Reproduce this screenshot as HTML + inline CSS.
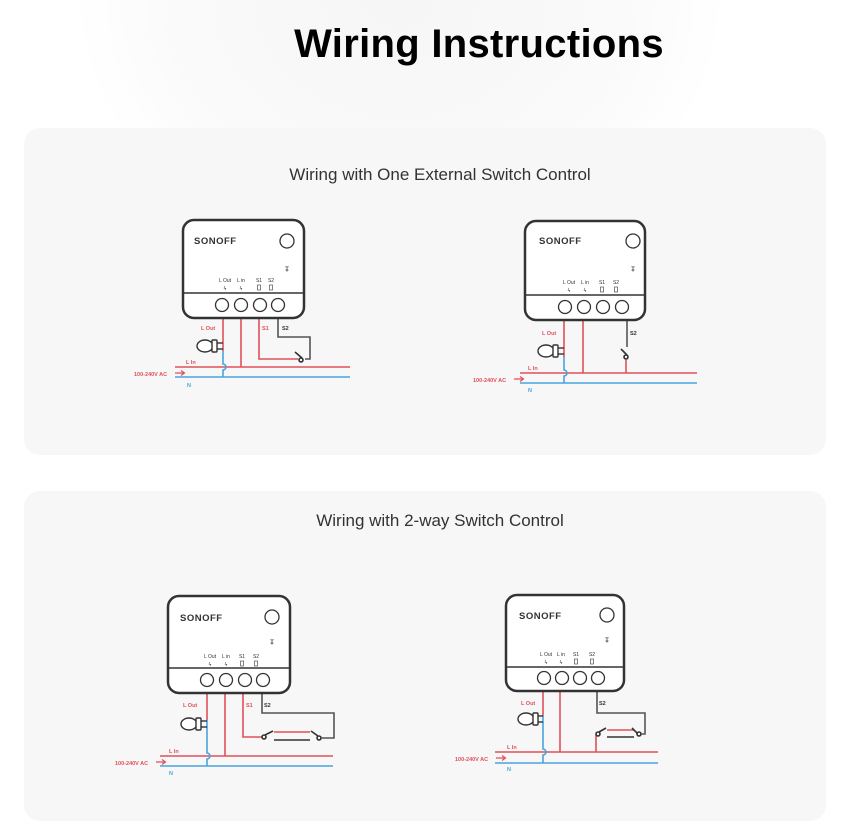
<!DOCTYPE html>
<html><head><meta charset="utf-8"><style>
html,body{margin:0;padding:0;background:#fff;}
body{width:841px;height:802px;overflow:hidden;position:relative;font-family:"Liberation Sans",sans-serif;}
.bg{position:absolute;left:80px;top:-260px;width:640px;height:520px;border-radius:50%;background:radial-gradient(ellipse at center,#f6f6f6 0%,#fafafa 50%,#fff 72%);}
h1{position:absolute;left:0;width:958px;top:22px;margin:0;text-align:center;font-size:40px;font-weight:bold;color:#000;letter-spacing:0.3px;}
.card{position:absolute;left:24px;width:802px;background:#f7f7f7;border-radius:16px;}
.ct{position:absolute;left:0;width:832px;text-align:center;font-size:17px;color:#333;}
svg{position:absolute;left:0;top:0;}
</style></head><body>
<div class="bg"></div>
<h1>Wiring Instructions</h1>
<div class="card" style="top:128px;height:327px;"><div class="ct" style="top:37px;">Wiring with One External Switch Control</div></div>
<div class="card" style="top:491px;height:330px;"><div class="ct" style="top:20px;">Wiring with 2-way Switch Control</div></div>
<svg width="841" height="802" viewBox="0 0 841 802" font-family="Liberation Sans, sans-serif">

<!-- ============ Diagram 1 ============ -->
<g fill="none" stroke-width="1.6">
<line x1="175" y1="367" x2="350" y2="367" stroke="#e0505a"/>
<line x1="175" y1="377" x2="350" y2="377" stroke="#4aa3df"/>
<polyline points="223,318 223,351" stroke="#e0505a"/>
<path d="M223 351 V364 a3 3 0 0 1 0 6 V377" stroke="#4aa3df"/>
<line x1="241" y1="318" x2="241" y2="367" stroke="#e0505a"/>
<polyline points="259,318 259,359 298,359" stroke="#e0505a"/>
<polyline points="278,318 278,337 310,337 310,359 305,359" stroke="#555"/>
<circle cx="301" cy="360" r="2" stroke="#333"/>
<line x1="302" y1="358" x2="295" y2="352" stroke="#333"/>
</g>
<g stroke="#333" stroke-width="1.4" fill="#fff">
<ellipse cx="205" cy="346" rx="8" ry="6"/>
<rect x="212" y="340" width="5" height="12" rx="1"/>
<line x1="217" y1="343" x2="223" y2="343"/><line x1="217" y1="349" x2="223" y2="349"/>
</g>
<g font-size="5.5" font-weight="bold">
<text x="186" y="364" fill="#e0505a">L In</text>
<text x="134" y="376" fill="#e0505a">100-240V AC</text>
<text x="187" y="387" fill="#4aa3df">N</text>
<text x="201" y="330" fill="#e0505a">L Out</text>
<text x="262" y="330" fill="#e0505a">S1</text>
<text x="282" y="330" fill="#333">S2</text>
</g>
<path d="M175 373 h9 M181 370.5 l3.5 2.5 -3.5 2.5" stroke="#e0505a" stroke-width="1.2" fill="none"/>

<g transform="translate(183,220)">
<rect x="0" y="0" width="121" height="98" rx="11" fill="#fff" stroke="#333" stroke-width="2.5"/>
<line x1="1" y1="73" x2="120" y2="73" stroke="#333" stroke-width="1.6"/>
<g fill="#fff" stroke="#333" stroke-width="1.3"><circle cx="39" cy="85" r="6.5"/><circle cx="58" cy="85" r="6.5"/><circle cx="77" cy="85" r="6.5"/><circle cx="95" cy="85" r="6.5"/><circle cx="104" cy="21" r="7"/></g>
<text x="11" y="24" font-size="9.5" font-weight="bold" fill="#333" letter-spacing="0.5">SONOFF</text>
<text x="104" y="49" font-size="5" fill="#333" text-anchor="middle">ᯤ</text><circle cx="104" cy="50" r="1" fill="none" stroke="#333" stroke-width="0.6"/>
<g font-size="5" fill="#333" text-anchor="middle"><text x="42" y="62">L Out</text><text x="58" y="62">L in</text><text x="76" y="62">S1</text><text x="88" y="62">S2</text>
<text x="42" y="70">ϟ</text><text x="58" y="70">ϟ</text></g>
<rect x="74.5" y="65" width="3" height="5" fill="none" stroke="#333" stroke-width="0.6"/><rect x="86.5" y="65" width="3" height="5" fill="none" stroke="#333" stroke-width="0.6"/>
</g>

<!-- ============ Diagram 2 ============ -->
<g fill="none" stroke-width="1.6">
<line x1="520" y1="373" x2="697" y2="373" stroke="#e0505a"/>
<line x1="520" y1="383" x2="697" y2="383" stroke="#4aa3df"/>
<polyline points="564,320 564,357" stroke="#e0505a"/>
<path d="M564 357 V370 a3 3 0 0 1 0 6 V383" stroke="#4aa3df"/>
<line x1="583" y1="320" x2="583" y2="373" stroke="#e0505a"/>
<polyline points="627,320 627,347" stroke="#555"/>
<polyline points="626,373 626,360" stroke="#e0505a"/>
<circle cx="626" cy="357" r="2" stroke="#333"/>
<line x1="627" y1="355" x2="621" y2="349" stroke="#333"/>
</g>
<g stroke="#333" stroke-width="1.4" fill="#fff">
<ellipse cx="546" cy="351" rx="8" ry="6"/>
<rect x="553" y="345" width="5" height="12" rx="1"/>
<line x1="558" y1="348" x2="564" y2="348"/><line x1="558" y1="354" x2="564" y2="354"/>
</g>
<g font-size="5.5" font-weight="bold">
<text x="528" y="370" fill="#e0505a">L In</text>
<text x="473" y="382" fill="#e0505a">100-240V AC</text>
<text x="528" y="392" fill="#4aa3df">N</text>
<text x="542" y="335" fill="#e0505a">L Out</text>
<text x="630" y="335" fill="#333">S2</text>
</g>
<path d="M514 379 h9 M520 376.5 l3.5 2.5 -3.5 2.5" stroke="#e0505a" stroke-width="1.2" fill="none"/>

<g transform="translate(525,221)">
<rect x="0" y="0" width="120" height="99" rx="11" fill="#fff" stroke="#333" stroke-width="2.5"/>
<line x1="1" y1="74" x2="119" y2="74" stroke="#333" stroke-width="1.6"/>
<g fill="#fff" stroke="#333" stroke-width="1.3"><circle cx="40" cy="86" r="6.5"/><circle cx="59" cy="86" r="6.5"/><circle cx="78" cy="86" r="6.5"/><circle cx="97" cy="86" r="6.5"/><circle cx="108" cy="20" r="7"/></g>
<text x="14" y="23" font-size="9.5" font-weight="bold" fill="#333" letter-spacing="0.5">SONOFF</text>
<text x="108" y="48" font-size="5" fill="#333" text-anchor="middle">ᯤ</text><circle cx="108" cy="49" r="1" fill="none" stroke="#333" stroke-width="0.6"/>
<g font-size="5" fill="#333" text-anchor="middle"><text x="44" y="63">L Out</text><text x="60" y="63">L in</text><text x="77" y="63">S1</text><text x="91" y="63">S2</text>
<text x="44" y="71">ϟ</text><text x="60" y="71">ϟ</text></g>
<rect x="75.5" y="66" width="3" height="5" fill="none" stroke="#333" stroke-width="0.6"/><rect x="89.5" y="66" width="3" height="5" fill="none" stroke="#333" stroke-width="0.6"/>
</g>

<!-- ============ Diagram 3 ============ -->
<g fill="none" stroke-width="1.6">
<line x1="160" y1="756" x2="333" y2="756" stroke="#e0505a"/>
<line x1="160" y1="766" x2="333" y2="766" stroke="#4aa3df"/>
<polyline points="207,693 207,720" stroke="#e0505a"/>
<path d="M207 720 V753 a3 3 0 0 1 0 6 V766" stroke="#4aa3df"/>
<line x1="225" y1="693" x2="225" y2="756" stroke="#e0505a"/>
<polyline points="243,693 243,737 262,737" stroke="#e0505a"/>
<circle cx="264" cy="737" r="2" stroke="#333"/>
<line x1="265" y1="735" x2="273" y2="731" stroke="#333"/>
<line x1="274" y1="732" x2="310" y2="732" stroke="#e0505a"/>
<line x1="274" y1="740" x2="310" y2="740" stroke="#333"/>
<line x1="311" y1="731" x2="318" y2="736" stroke="#333"/>
<circle cx="319" cy="738" r="2" stroke="#333"/>
<polyline points="262,693 262,713 334,713 334,738 321,738" stroke="#555"/>
</g>
<g stroke="#333" stroke-width="1.4" fill="#fff">
<ellipse cx="189" cy="724" rx="8" ry="6"/>
<rect x="196" y="718" width="5" height="12" rx="1"/>
<line x1="201" y1="721" x2="207" y2="721"/><line x1="201" y1="727" x2="207" y2="727"/>
</g>
<g font-size="5.5" font-weight="bold">
<text x="169" y="753" fill="#e0505a">L In</text>
<text x="115" y="765" fill="#e0505a">100-240V AC</text>
<text x="169" y="775" fill="#4aa3df">N</text>
<text x="183" y="707" fill="#e0505a">L Out</text>
<text x="246" y="707" fill="#e0505a">S1</text>
<text x="264" y="707" fill="#333">S2</text>
</g>
<path d="M156 762 h9 M162 759.5 l3.5 2.5 -3.5 2.5" stroke="#e0505a" stroke-width="1.2" fill="none"/>

<g transform="translate(168,596)">
<rect x="0" y="0" width="122" height="97" rx="11" fill="#fff" stroke="#333" stroke-width="2.5"/>
<line x1="1" y1="72" x2="121" y2="72" stroke="#333" stroke-width="1.6"/>
<g fill="#fff" stroke="#333" stroke-width="1.3"><circle cx="39" cy="84" r="6.5"/><circle cx="58" cy="84" r="6.5"/><circle cx="77" cy="84" r="6.5"/><circle cx="95" cy="84" r="6.5"/><circle cx="104" cy="21" r="7"/></g>
<text x="12" y="25" font-size="9.5" font-weight="bold" fill="#333" letter-spacing="0.5">SONOFF</text>
<text x="104" y="46" font-size="5" fill="#333" text-anchor="middle">ᯤ</text><circle cx="104" cy="47" r="1" fill="none" stroke="#333" stroke-width="0.6"/>
<g font-size="5" fill="#333" text-anchor="middle"><text x="42" y="62">L Out</text><text x="58" y="62">L in</text><text x="74" y="62">S1</text><text x="88" y="62">S2</text>
<text x="42" y="70">ϟ</text><text x="58" y="70">ϟ</text></g>
<rect x="72.5" y="65" width="3" height="5" fill="none" stroke="#333" stroke-width="0.6"/><rect x="86.5" y="65" width="3" height="5" fill="none" stroke="#333" stroke-width="0.6"/>
</g>

<!-- ============ Diagram 4 ============ -->
<g fill="none" stroke-width="1.6">
<line x1="495" y1="752" x2="658" y2="752" stroke="#e0505a"/>
<line x1="495" y1="763" x2="658" y2="763" stroke="#4aa3df"/>
<polyline points="543,691 543,716" stroke="#e0505a"/>
<path d="M543 716 V749 a3 3 0 0 1 0 6 V763" stroke="#4aa3df"/>
<line x1="560" y1="691" x2="560" y2="752" stroke="#e0505a"/>
<polyline points="596,752 596,735" stroke="#e0505a"/>
<circle cx="598" cy="734" r="2" stroke="#333"/>
<line x1="599" y1="732" x2="606" y2="728" stroke="#333"/>
<line x1="607" y1="730" x2="634" y2="730" stroke="#e0505a"/>
<line x1="607" y1="737" x2="634" y2="737" stroke="#333"/>
<line x1="632" y1="728" x2="637" y2="733" stroke="#333"/>
<circle cx="639" cy="734" r="2" stroke="#333"/>
<polyline points="597,691 597,713 645,713 645,734 641,734" stroke="#555"/>
</g>
<g stroke="#333" stroke-width="1.4" fill="#fff">
<ellipse cx="526" cy="719" rx="8" ry="6"/>
<rect x="533" y="713" width="5" height="12" rx="1"/>
<line x1="538" y1="716" x2="543" y2="716"/><line x1="538" y1="722" x2="543" y2="722"/>
</g>
<g font-size="5.5" font-weight="bold">
<text x="507" y="749" fill="#e0505a">L In</text>
<text x="455" y="761" fill="#e0505a">100-240V AC</text>
<text x="507" y="771" fill="#4aa3df">N</text>
<text x="521" y="705" fill="#e0505a">L Out</text>
<text x="599" y="705" fill="#333">S2</text>
</g>
<path d="M496 758 h9 M502 755.5 l3.5 2.5 -3.5 2.5" stroke="#e0505a" stroke-width="1.2" fill="none"/>

<g transform="translate(506,595)">
<rect x="0" y="0" width="118" height="96" rx="11" fill="#fff" stroke="#333" stroke-width="2.5"/>
<line x1="1" y1="72" x2="117" y2="72" stroke="#333" stroke-width="1.6"/>
<g fill="#fff" stroke="#333" stroke-width="1.3"><circle cx="38" cy="83" r="6.5"/><circle cx="56" cy="83" r="6.5"/><circle cx="74" cy="83" r="6.5"/><circle cx="92" cy="83" r="6.5"/><circle cx="101" cy="20" r="7"/></g>
<text x="13" y="24" font-size="9.5" font-weight="bold" fill="#333" letter-spacing="0.5">SONOFF</text>
<text x="101" y="45" font-size="5" fill="#333" text-anchor="middle">ᯤ</text><circle cx="101" cy="46" r="1" fill="none" stroke="#333" stroke-width="0.6"/>
<g font-size="5" fill="#333" text-anchor="middle"><text x="40" y="61">L Out</text><text x="55" y="61">L in</text><text x="70" y="61">S1</text><text x="86" y="61">S2</text>
<text x="40" y="69">ϟ</text><text x="55" y="69">ϟ</text></g>
<rect x="68.5" y="64" width="3" height="5" fill="none" stroke="#333" stroke-width="0.6"/><rect x="84.5" y="64" width="3" height="5" fill="none" stroke="#333" stroke-width="0.6"/>
</g>
</svg>
</body></html>
